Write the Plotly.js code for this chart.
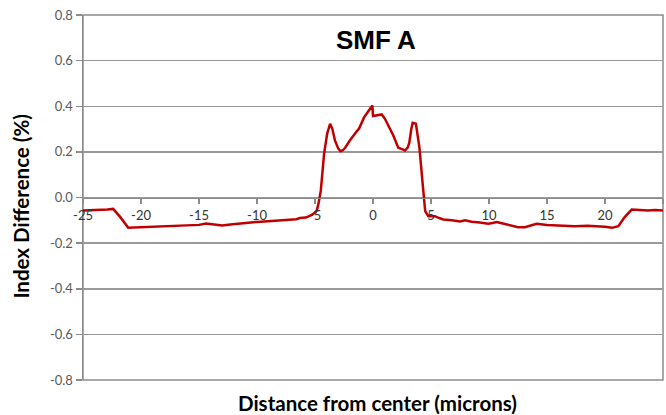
<!DOCTYPE html>
<html>
<head>
<meta charset="utf-8">
<script src="https://cdn.plot.ly/plotly-3.0.1.min.js"></script>
<style>html,body{margin:0;padding:0;background:#fff;}#chart{width:666px;height:415px;}</style>
</head>
<body>
<div id="chart"></div>
<script>
var distance = [-25,-24,-23.5,-22.9,-22.4,-21.8,-21.1,-20.5,-20,-19,-18,-17,-16.5,-15.5,-15,-14.4,-13.7,-13,-12.3,-11.5,-11,-10.3,-10,-9,-8,-7,-6.6,-6.3,-5.8,-5.4,-5.1,-4.85,-4.7,-4.5,-4.22,-3.95,-3.7,-3.5,-3.28,-3.0,-2.8,-2.6,-2.4,-2.0,-1.7,-1.4,-1.2,-0.78,-0.45,-0.2,-0.09,-0.05,0,0.4,0.75,1.03,1.25,1.47,1.75,2.0,2.18,2.5,2.76,3.0,3.13,3.3,3.42,3.7,3.85,4.0,4.28,4.5,4.77,5.0,5.34,5.7,6.06,6.8,7.5,7.93,8.5,9.2,9.94,10.3,10.66,11.2,12,12.5,13.1,13.6,14.1,15,16,17.4,18.5,19.4,20,20.6,21.15,21.7,22.3,23,23.7,24.3,25];
var indexDiff = [-0.057,-0.055,-0.057,-0.053,-0.05,-0.085,-0.133,-0.132,-0.13,-0.128,-0.127,-0.125,-0.123,-0.121,-0.12,-0.114,-0.117,-0.123,-0.118,-0.113,-0.111,-0.108,-0.107,-0.104,-0.1,-0.096,-0.095,-0.09,-0.088,-0.079,-0.07,-0.057,-0.027,0.03,0.19,0.28,0.323,0.3,0.25,0.215,0.203,0.207,0.218,0.25,0.272,0.29,0.302,0.35,0.375,0.394,0.403,0.403,0.357,0.36,0.364,0.345,0.32,0.3,0.272,0.24,0.218,0.212,0.206,0.22,0.24,0.3,0.327,0.323,0.28,0.22,0.06,-0.06,-0.082,-0.083,-0.082,-0.09,-0.096,-0.1,-0.105,-0.1,-0.106,-0.11,-0.115,-0.112,-0.108,-0.114,-0.125,-0.13,-0.13,-0.122,-0.115,-0.12,-0.122,-0.126,-0.124,-0.126,-0.128,-0.133,-0.126,-0.086,-0.053,-0.055,-0.057,-0.055,-0.057];
var xTickVals = [-25,-20,-15,-10,-5,0,5,10,15,20,25];
var xTickText = ["-25","-20","-15","-10","-5","0","5","10","15","20","25"];
var yTickVals = [-0.8,-0.6,-0.4,-0.2,0,0.2,0.4,0.6,0.8];
var yTickText = ["-0.8","-0.6","-0.4","-0.2","0.0","0.2","0.4","0.6","0.8"];
var chartTitle = "SMF A";
var xTitle = "Distance from center (microns)";
var yTitle = "Index Difference (%)";

var trace = {
  x: distance, y: indexDiff, type: 'scatter', mode: 'lines',
  line: {color: '#c00000', width: 2.5, shape: 'linear'},
  hoverinfo: 'skip'
};
var layout = {
  width: 666, height: 415,
  margin: {l: 83, r: 3, t: 15, b: 35},
  paper_bgcolor: '#ffffff', plot_bgcolor: '#ffffff',
  showlegend: false,
  font: {family: 'Lato, "Open Sans", sans-serif', color: '#404040', size: 12},
  title: {text: '<b>' + chartTitle + '</b>', font: {family: '"Liberation Sans", Arial, sans-serif', size: 26, color: '#000000'},
          xref: 'paper', x: 0.505, xanchor: 'center', yref: 'container', y: 0.904, yanchor: 'middle'},
  xaxis: {
    range: [-25, 25], anchor: 'free', position: 0.5,
    tickvals: xTickVals, ticktext: xTickText,
    ticks: 'outside', ticklen: 5, tickwidth: 1.5, tickcolor: '#8c8c8c',
    showline: true, linecolor: '#8c8c8c', linewidth: 1.5,
    showgrid: false, zeroline: false,
    tickfont: {family: 'Lato, "Open Sans", sans-serif', size: 13, color: '#333333'}
  },
  yaxis: {
    range: [-0.8, 0.8],
    tickvals: yTickVals, ticktext: yTickText,
    ticks: 'outside', ticklen: 6, tickwidth: 1.5, tickcolor: '#8c8c8c',
    showline: true, linecolor: '#8c8c8c', linewidth: 1.5,
    showgrid: true, gridcolor: '#999999', gridwidth: 1.5, zeroline: false,
    tickfont: {family: 'Lato, "Open Sans", sans-serif', size: 13, color: '#595959'}
  },
  shapes: [{type: 'rect', xref: 'paper', yref: 'paper', x0: 0, x1: 1, y0: 0, y1: 1,
            line: {color: '#8c8c8c', width: 1.5}, fillcolor: 'rgba(0,0,0,0)', layer: 'below'}],
  annotations: [
    {text: '<b>' + xTitle + '</b>', xref: 'paper', yref: 'paper', x: 0.507, y: -0.063,
     xanchor: 'center', yanchor: 'middle', showarrow: false,
     font: {family: 'Lato, "Open Sans", sans-serif', size: 20.5, color: '#000000'}},
    {text: '<b>' + yTitle + '</b>', xref: 'paper', yref: 'paper', x: -0.107, y: 0.475,
     xanchor: 'center', yanchor: 'middle', textangle: -90, showarrow: false,
     font: {family: 'Lato, "Open Sans", sans-serif', size: 20.5, color: '#000000'}}
  ]
};
Plotly.newPlot('chart', [trace], layout, {displayModeBar: false, staticPlot: true});
</script>
</body>
</html>
